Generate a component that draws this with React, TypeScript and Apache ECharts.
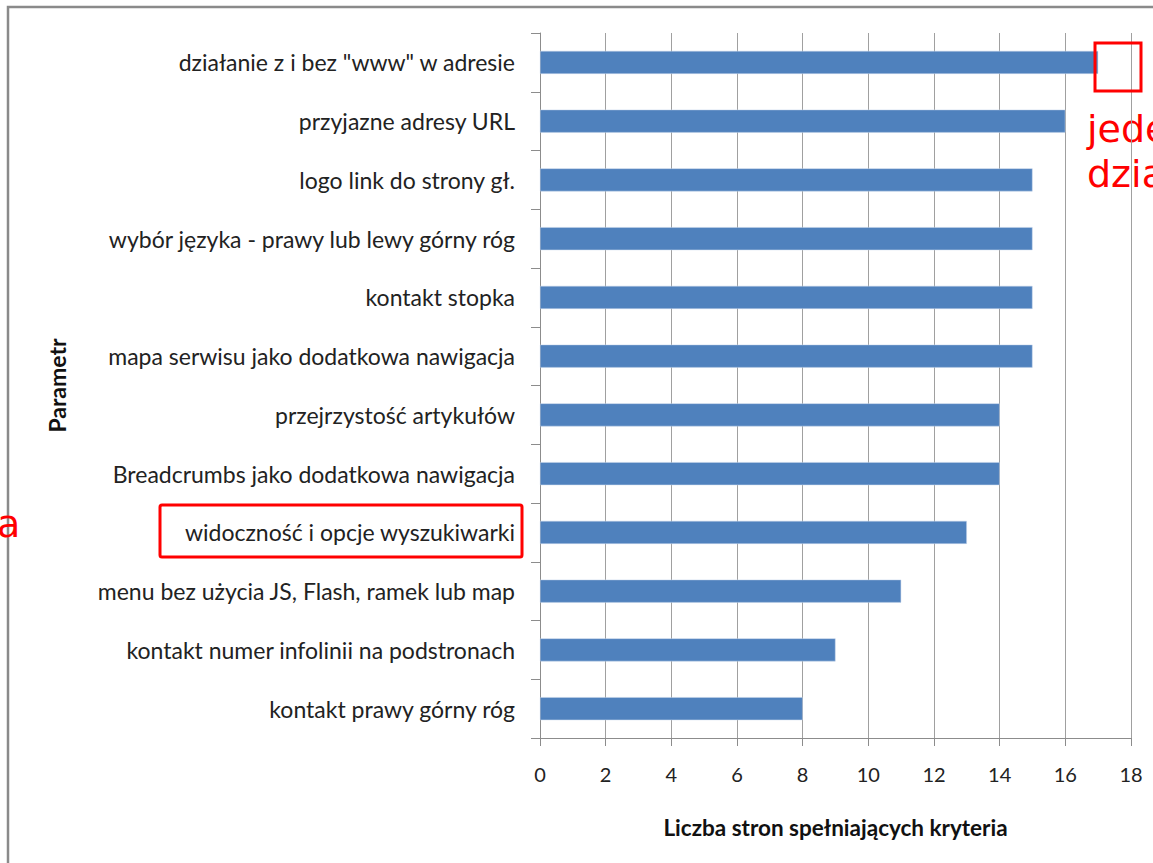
import React, { useEffect, useRef } from "react";
import * as echarts from "echarts";

const categories = [
  "działanie z i bez \"www\" w adresie",
  "przyjazne adresy URL",
  "logo link do strony gł.",
  "wybór języka - prawy lub lewy górny róg",
  "kontakt stopka",
  "mapa serwisu jako dodatkowa nawigacja",
  "przejrzystość artykułów",
  "Breadcrumbs jako dodatkowa nawigacja",
  "widoczność i opcje wyszukiwarki",
  "menu bez użycia JS, Flash, ramek lub map",
  "kontakt numer infolinii na podstronach",
  "kontakt prawy górny róg",
];
const values = [17, 16, 15, 15, 15, 15, 14, 14, 13, 11, 9, 8];
const xTitle = "Liczba stron spełniających kryteria";
const yTitle = "Parametr";

const FONT = "Lato, 'Open Sans', sans-serif";

export default function App() {
  const ref = useRef<HTMLDivElement>(null);
  useEffect(() => {
    const chart = echarts.init(ref.current!, null, { renderer: "svg" });
    chart.setOption({
      animation: false,
      backgroundColor: "#ffffff",
      grid: { left: 540, right: 22, top: 33, bottom: 125, containLabel: false },
      xAxis: {
        type: "value",
        min: 0,
        max: 18,
        interval: 2,
        axisLine: { show: true, lineStyle: { color: "#8c8c8c", width: 1 } },
        axisTick: { show: true, length: 8, lineStyle: { color: "#8c8c8c" } },
        splitLine: { show: true, lineStyle: { color: "#a0a0a0", width: 1 } },
        axisLabel: { color: "#222", fontSize: 20, fontFamily: FONT, margin: 26 },
        name: xTitle,
        nameLocation: "middle",
        nameGap: 78,
        nameTextStyle: { color: "#111", fontSize: 22.5, fontWeight: "bold", fontFamily: FONT },
      },
      yAxis: {
        type: "category",
        inverse: true,
        data: categories,
        axisLine: { show: true, lineStyle: { color: "#8c8c8c", width: 1 } },
        axisTick: { show: true, length: 9, lineStyle: { color: "#8c8c8c" } },
        axisLabel: { color: "#222", fontSize: 23, fontFamily: FONT, margin: 25 },
        name: yTitle,
        nameLocation: "middle",
        nameGap: 472,
        nameRotate: 90,
        nameTextStyle: { color: "#111", fontSize: 23, fontWeight: "bold", fontFamily: FONT },
      },
      series: [
        {
          type: "bar",
          data: values,
          barWidth: 23,
          itemStyle: { color: "#4f81bd", borderColor: "#c5d4ea", borderWidth: 0.5 },
          z: 2,
        },
      ],
      graphic: [
        {
          type: "rect",
          shape: { x: 8, y: 7, width: 1300, height: 1000 },
          style: { fill: "none", stroke: "#8a8a8a", lineWidth: 2.5 },
          silent: true,
          z: 100,
        },
        {
          type: "rect",
          shape: { x: 1095, y: 43, width: 46, height: 48 },
          style: { fill: "none", stroke: "#ff0000", lineWidth: 3 },
          z: 100,
        },
        {
          type: "rect",
          shape: { x: 160, y: 505, width: 362, height: 52, r: 2 },
          style: { fill: "none", stroke: "#ff0000", lineWidth: 3 },
          z: 100,
        },
        {
          type: "text",
          x: 1087,
          y: 106,
          z: -1,
          style: {
            text: "jede\ndzia",
            fill: "#ff0000",
            fontSize: 38,
            lineHeight: 45,
            fontFamily: "'DejaVu Sans', sans-serif",
          },
        },
        {
          type: "text",
          x: -3,
          y: 505,
          z: 100,
          style: {
            text: "a",
            fill: "#ff0000",
            fontSize: 38,
            fontFamily: "'DejaVu Sans', sans-serif",
          },
        },
      ],
    });
    return () => chart.dispose();
  }, []);
  return (
    <div
      ref={ref}
      style={{ position: "fixed", left: 0, top: 0, width: 1153, height: 863 }}
    />
  );
}
